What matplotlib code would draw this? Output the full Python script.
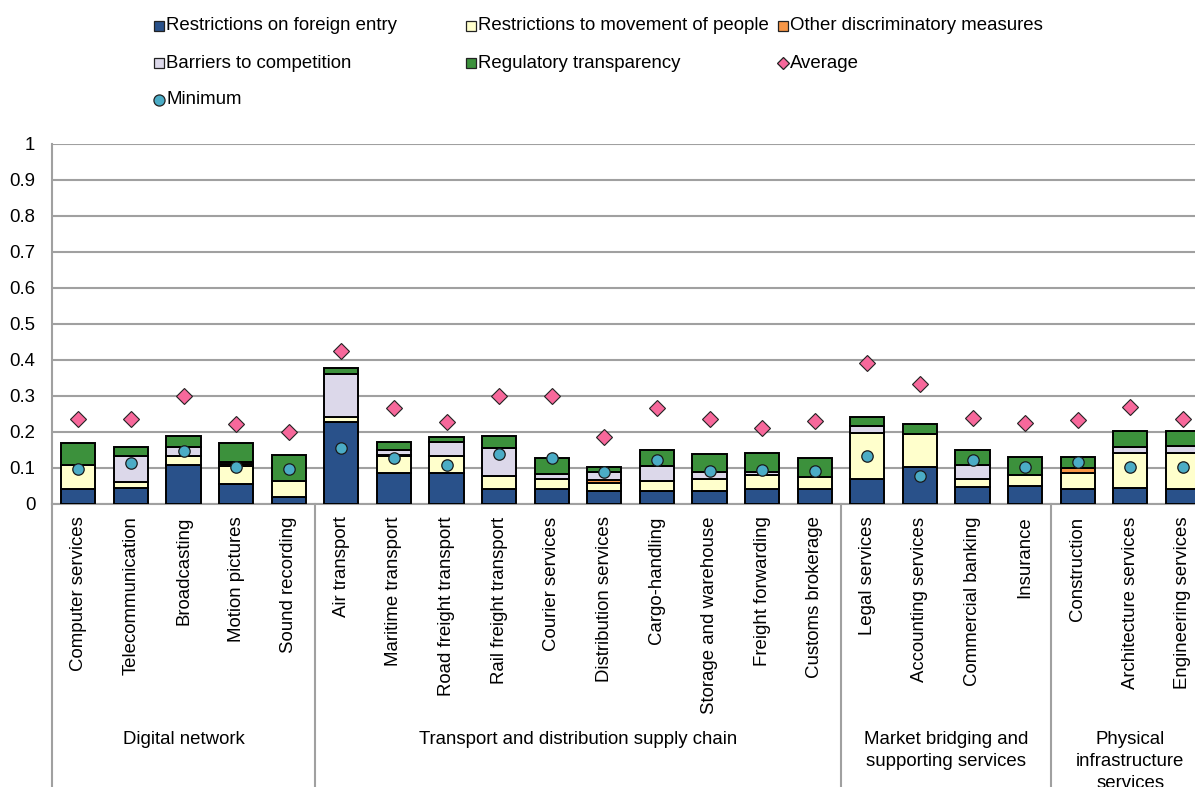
import matplotlib
matplotlib.use('Agg')
import matplotlib.pyplot as plt
from matplotlib.lines import Line2D
import numpy as np

plt.rcParams['font.family'] = ['Liberation Sans', 'DejaVu Sans']

categories = ["Computer services", "Telecommunication", "Broadcasting", "Motion pictures",
              "Sound recording", "Air transport", "Maritime transport", "Road freight transport",
              "Rail freight transport", "Courier services", "Distribution services",
              "Cargo-handling", "Storage and warehouse", "Freight forwarding",
              "Customs brokerage", "Legal services", "Accounting services",
              "Commercial banking", "Insurance", "Construction", "Architecture services",
              "Engineering services"]

group_names = ["Digital network", "Transport and distribution supply chain",
               "Market bridging and\nsupporting services",
               "Physical\ninfrastructure\nservices"]
group_sizes = [5, 10, 4, 3]

foreign_entry = [0.041, 0.044, 0.109, 0.056, 0.020, 0.227, 0.085, 0.085, 0.041, 0.042, 0.037,
                 0.036, 0.037, 0.042, 0.041, 0.069, 0.102, 0.046, 0.050, 0.041, 0.044, 0.042]
movement_people = [0.067, 0.018, 0.023, 0.050, 0.045, 0.016, 0.048, 0.048, 0.037, 0.027, 0.022,
                   0.028, 0.032, 0.039, 0.035, 0.127, 0.092, 0.023, 0.031, 0.044, 0.097, 0.101]
other_discrim = [0.000, 0.000, 0.000, 0.006, 0.000, 0.000, 0.004, 0.000, 0.000, 0.000, 0.008,
                 0.000, 0.000, 0.000, 0.000, 0.000, 0.000, 0.000, 0.000, 0.014, 0.000, 0.000]
barriers = [0.000, 0.070, 0.025, 0.006, 0.000, 0.117, 0.014, 0.040, 0.077, 0.013, 0.021,
            0.042, 0.021, 0.007, 0.000, 0.021, 0.000, 0.038, 0.000, 0.000, 0.018, 0.018]
transparency = [0.061, 0.025, 0.031, 0.052, 0.072, 0.017, 0.022, 0.012, 0.035, 0.047, 0.016,
                0.044, 0.049, 0.053, 0.051, 0.024, 0.027, 0.043, 0.049, 0.031, 0.044, 0.043]
average = [0.236, 0.235, 0.301, 0.223, 0.200, 0.425, 0.266, 0.229, 0.300, 0.301, 0.187,
           0.267, 0.236, 0.210, 0.231, 0.393, 0.332, 0.238, 0.226, 0.233, 0.270, 0.236]
minimum = [0.098, 0.113, 0.146, 0.104, 0.098, 0.156, 0.127, 0.107, 0.138, 0.127, 0.088,
           0.122, 0.092, 0.094, 0.093, 0.134, 0.079, 0.122, 0.104, 0.116, 0.104, 0.102]
yticks = [0, 0.1, 0.2, 0.3, 0.4, 0.5, 0.6, 0.7, 0.8, 0.9, 1]
ytick_labels = ["0", "0.1", "0.2", "0.3", "0.4", "0.5", "0.6", "0.7", "0.8", "0.9", "1"]

series_labels = ["Restrictions on foreign entry", "Restrictions to movement of people",
                 "Other discriminatory measures", "Barriers to competition",
                 "Regulatory transparency"]
series_colors = ["#29518A", "#FFFFCC", "#F79646", "#DCD8EA", "#3C913C"]
avg_color = "#F7689B"
min_color = "#4BACC6"

W, H = 1195, 787
FS = 13.4
fig = plt.figure(figsize=(W / 100, H / 100), dpi=100)
ax_l = 52 / W
ax_b = (H - 504) / H
ax_t = (H - 144) / H
ax = fig.add_axes([ax_l, ax_b, 1 - ax_l, ax_t - ax_b])

x = np.arange(len(categories))
bottom = np.zeros(len(categories))
for vals, col in zip([foreign_entry, movement_people, other_discrim, barriers, transparency],
                     series_colors):
    v = np.array(vals)
    ax.bar(x, v, bottom=bottom, width=0.65, color=col, edgecolor='black', linewidth=1.4,
           zorder=3)
    bottom += v

ax.plot(x, average, linestyle='none', marker='D', markersize=8.5, markerfacecolor=avg_color,
        markeredgecolor='#222222', markeredgewidth=0.8, zorder=5)
ax.plot(x, minimum, linestyle='none', marker='o', markersize=8.2, markerfacecolor=min_color,
        markeredgecolor='#1a1a1a', markeredgewidth=0.9, zorder=5)

ax.set_ylim(0, 1)
ax.set_xlim(-0.5, -0.5 + (W - 52) / 52.6)
ax.set_yticks(yticks)
ax.set_yticklabels(ytick_labels, fontsize=FS)
ax.yaxis.grid(True, color='#A0A0A0', linewidth=1.5, zorder=0)
ax.set_axisbelow(True)
ax.tick_params(axis='y', length=0, pad=12)
ax.set_xticks(x)
ax.set_xticklabels(categories, rotation=90, fontsize=FS, va='top', ha='center')
ax.tick_params(axis='x', length=0, pad=9)
for s in ['top', 'right']:
    ax.spines[s].set_visible(False)
for s in ['left', 'bottom']:
    ax.spines[s].set_color('#A0A0A0')
    ax.spines[s].set_linewidth(1.5)

# group separators and labels
trans = ax.get_xaxis_transform()
ext = -(H - 504) / 360
start = -0.5
for name, size in zip(group_names, group_sizes):
    ax.plot([start, start], [0, ext], color='#A0A0A0', linewidth=1.5, transform=trans,
            clip_on=False)
    ax.text(start + size / 2, (504 - 731) / 360, name, transform=trans, ha='center', va='top',
            fontsize=FS, linespacing=1.38, multialignment='center')
    start += size

# legend drawn manually at Excel-like positions
leg_handles = [
    dict(marker='s', color=series_colors[0], label=series_labels[0]),
    dict(marker='s', color=series_colors[1], label=series_labels[1]),
    dict(marker='s', color=series_colors[2], label=series_labels[2]),
    dict(marker='s', color=series_colors[3], label=series_labels[3]),
    dict(marker='s', color=series_colors[4], label=series_labels[4]),
    dict(marker='D', color=avg_color, label="Average"),
    dict(marker='o', color=min_color, label="Minimum"),
]
col_x = [159, 471, 783]
row_y = [26, 63, 100]
for i, h in enumerate(leg_handles):
    r, c = divmod(i, 3)
    mx, my = col_x[c], row_y[r]
    ms = {'s': 7, 'D': 6, 'o': 8}[h['marker']]
    fig.add_artist(Line2D([mx / W], [1 - my / H], marker=h['marker'], markersize=ms,
                          markerfacecolor=h['color'], markeredgecolor='#222222',
                          markeredgewidth=0.9, linestyle='none', transform=fig.transFigure))
    fig.text((mx + 7) / W, 1 - my / H, h['label'], fontsize=FS, ha='left', va='center')

fig.savefig('out.png', dpi=100)
